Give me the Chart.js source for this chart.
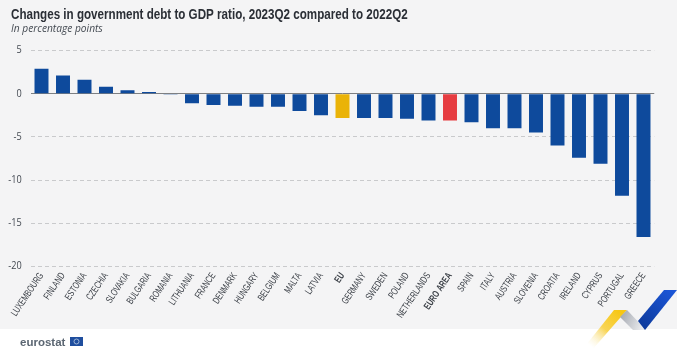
<!DOCTYPE html>
<html><head><meta charset="utf-8">
<style>html,body{margin:0;padding:0;background:#fff}#w{width:677px;height:358px;position:relative}</style>
<script src="https://cdn.jsdelivr.net/npm/chart.js@4"></script>
</head><body><div id="w"><canvas id="c" width="677" height="358"></canvas></div>
<script>
const categories = ["LUXEMBOURG","FINLAND","ESTONIA","CZECHIA","SLOVAKIA","BULGARIA","ROMANIA","LITHUANIA","FRANCE","DENMARK","HUNGARY","BELGIUM","MALTA","LATVIA","EU","GERMANY","SWEDEN","POLAND","NETHERLANDS","EURO AREA","SPAIN","ITALY","AUSTRIA","SLOVENIA","CROATIA","IRELAND","CYPRUS","PORTUGAL","GREECE"];
const values = [2.9,2.1,1.6,0.8,0.4,0.2,-0.1,-1.1,-1.3,-1.4,-1.5,-1.5,-2.0,-2.5,-2.8,-2.8,-2.8,-2.9,-3.1,-3.1,-3.3,-4.0,-4.0,-4.5,-6.0,-7.4,-8.1,-11.8,-16.6];
const titleText = "Changes in government debt to GDP ratio, 2023Q2 compared to 2022Q2";
const subtitleText = "In percentage points";
const tickStep = 5, yMin = -20, yMax = 5;
const barColour = "#0e4a9c", euColour = "#eab308", euroAreaColour = "#e63c41";
const sans = '"Liberation Sans",sans-serif';
const open = '"Open Sans",sans-serif';

const canvas = document.getElementById('c');
const ctx2d = canvas.getContext('2d');
// Condense text horizontally (no condensed face is installed)
const rawFill = ctx2d.fillText;
ctx2d.fillText = function(t,x,y,m){
  const f = this.font;
  const k = f.includes('italic') || this.noCondense ? 1 : f.includes('15.5px') ? .75 : f.includes('Liberation') ? .7 : .87;
  if(k===1) return rawFill.call(this,t,x,y,m);
  this.save(); this.scale(k,1); rawFill.call(this,t,x/k,y,m); this.restore();
};

const decor = {
  id:'decor',
  afterLayout(ch){ ch.scales.y.left = 0; },
  beforeDraw(ch){
    const x=ch.ctx; x.save();
    x.fillStyle='#f4f4f5'; x.fillRect(0,0,677,329);
    x.restore();
  },
  afterDraw(ch){
    const x=ch.ctx; x.save();
    let g=x.createLinearGradient(620,312,590,346);
    g.addColorStop(0,'#f7c714'); g.addColorStop(.5,'#f8d453'); g.addColorStop(1,'rgba(250,240,200,0)');
    x.fillStyle=g; x.beginPath(); x.moveTo(614,310); x.lineTo(627,310); x.lineTo(592,350); x.lineTo(582,350); x.closePath(); x.fill();
    g=x.createLinearGradient(622,315,645,325);
    g.addColorStop(0,'#a9adb5'); g.addColorStop(1,'#eeeff1');
    x.fillStyle=g; x.beginPath(); x.moveTo(627,310); x.lineTo(646,330); x.lineTo(633,330); x.lineTo(620,317); x.closePath(); x.fill();
    g=x.createLinearGradient(670,290,640,328);
    g.addColorStop(0,'#1b55d6'); g.addColorStop(1,'#0d3a9a');
    x.fillStyle=g; x.beginPath(); x.moveTo(664,290); x.lineTo(677,290); x.lineTo(645,330); x.lineTo(638,321); x.closePath(); x.fill();
    x.noCondense=true;
    x.fillStyle='#5b6672'; x.font='bold 11.5px "Liberation Sans",sans-serif'; x.textBaseline='alphabetic'; x.textAlign='left';
    x.fillText('eurostat',20,346);
    x.noCondense=false;
    x.fillStyle='#1f4e9e'; x.fillRect(70,337,13,9);
    x.strokeStyle='#9fb6d8'; x.lineWidth=1; x.beginPath(); x.arc(76.5,341.5,2.5,0,7); x.stroke();
    x.restore();
  }
};

new Chart(canvas,{
  type:'bar',
  data:{labels:categories,datasets:[{data:values,
    backgroundColor:categories.map(c=>c==='EU'?euColour:c==='EURO AREA'?euroAreaColour:barColour),
    categoryPercentage:1,barPercentage:.65,borderWidth:0}]},
  plugins:[decor],
  options:{
    responsive:false,animation:false,devicePixelRatio:1,
    layout:{padding:{left:11,right:22.75,top:6,bottom:0}},
    plugins:{
      legend:{display:false},tooltip:{enabled:false},
      title:{display:true,text:titleText,align:'start',color:'#2b2f36',
        font:{family:sans,size:15.5,weight:'bold',lineHeight:1.1},padding:{top:0,bottom:0}},
      subtitle:{display:true,text:subtitleText,align:'start',color:'#444a52',
        font:{family:open,size:10.2,style:'italic',lineHeight:1.2},padding:{top:0,bottom:15.2}}
    },
    scales:{
      x:{
        border:{display:false},
        grid:{display:false,drawTicks:false},
        afterFit(s){s.height=91.5;s.paddingLeft=0;s.paddingRight=0;},
        ticks:{autoSkip:false,maxRotation:56,minRotation:56,padding:4,color:'#3a3f46',
          font:c=>({family:sans,size:10,weight:(c.tick&&(c.tick.label==='EU'||c.tick.label==='EURO AREA'))?'bold':'normal'})}
      },
      y:{
        min:yMin,max:yMax,
        border:{display:false,dash:c=>c.tick&&c.tick.value===0?[]:[4,3]},
        afterFit(s){s.width=19.75;s.paddingTop=0;s.paddingBottom=0;},
        grid:{drawTicks:false,lineWidth:1,
          color:c=>c.tick.value===0?'#7d7f82':'#c9cacc'},
        ticks:{stepSize:tickStep,padding:9,color:'#444a52',font:{family:open,size:10.5}}
      }
    }
  }
});
</script></body></html>
